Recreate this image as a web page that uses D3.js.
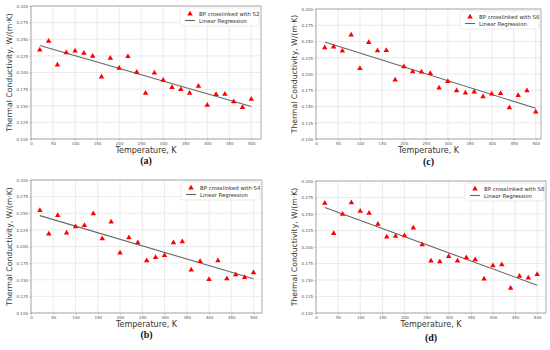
<!DOCTYPE html>
<html>
<head>
<meta charset="utf-8">
<script src="https://cdn.jsdelivr.net/npm/d3@7"></script>
<style>
  body { margin: 0; background: #fff; }
  .tick text { font-family: "DejaVu Sans", sans-serif; fill: #555; }
</style>
</head>
<body>
<svg id="chart" width="550" height="350"></svg>
<script>
var temps = [20, 40, 60, 80, 100, 120, 140, 160, 180, 200, 220, 240, 260, 280, 300, 320, 340, 360, 380, 400, 420, 440, 460, 480, 500];
var xTicks = [0, 50, 100, 150, 200, 250, 300, 350, 400, 450, 500];
var yTicks = [0.100, 0.125, 0.150, 0.175, 0.200, 0.225, 0.250, 0.275, 0.300];

var s2 = [0.234, 0.247, 0.2115, 0.230, 0.2325, 0.229, 0.2245, 0.1935, 0.2215, 0.2065, 0.224, 0.2005, 0.169, 0.1995, 0.1885, 0.1775, 0.1745, 0.169, 0.1795, 0.151, 0.167, 0.1675, 0.156, 0.1475, 0.160];
var s4 = [0.2544, 0.2188, 0.2469, 0.2203, 0.2298, 0.2318, 0.2494, 0.2118, 0.2368, 0.1902, 0.2133, 0.2058, 0.1787, 0.1837, 0.1867, 0.2058, 0.2073, 0.1647, 0.1777, 0.1506, 0.1787, 0.1516, 0.1576, 0.1536, 0.1607];
var s6 = [0.2405, 0.2415, 0.2354, 0.260, 0.2087, 0.2487, 0.2359, 0.2364, 0.1908, 0.2113, 0.2036, 0.2031, 0.2010, 0.1785, 0.1887, 0.1744, 0.1708, 0.1723, 0.1651, 0.1692, 0.1703, 0.1482, 0.1672, 0.1744, 0.1415];
var s8 = [0.2663, 0.2206, 0.2497, 0.2673, 0.2543, 0.2513, 0.2347, 0.2151, 0.2166, 0.2171, 0.2291, 0.2035, 0.1789, 0.1779, 0.1859, 0.1789, 0.1839, 0.1809, 0.1518, 0.1719, 0.1734, 0.1377, 0.1558, 0.1533, 0.1583];

// regression line endpoints at T = 20 and T = 500
var fitS2 = [0.2405, 0.149];
var fitS4 = [0.2464, 0.1516];
var fitS6 = [0.2492, 0.1472];
var fitS8 = [0.2598, 0.1422];

var labels = ["BP crosslinked with S2", "BP crosslinked with S4", "BP crosslinked with S6", "BP crosslinked with S8"];
var captions = ["(a)", "(b)", "(c)", "(d)"];

var panels = [
  { values: s2, fit: fitS2, label: labels[0], caption: captions[0], left: 31, right: 261, top: 6, bottom: 139, xMax: 522, capY: 164 },
  { values: s4, fit: fitS4, label: labels[1], caption: captions[1], left: 31, right: 262, top: 180, bottom: 313, xMax: 519, capY: 338 },
  { values: s6, fit: fitS6, label: labels[2], caption: captions[2], left: 316, right: 541, top: 9, bottom: 139, xMax: 512, capY: 165 },
  { values: s8, fit: fitS8, label: labels[3], caption: captions[3], left: 316, right: 546, top: 181, bottom: 313, xMax: 520, capY: 341 }
];

var svg = d3.select("#chart");
var tri = d3.symbol().type(d3.symbolTriangle).size(13);

panels.forEach(function (p) {
  var x = d3.scaleLinear().domain([0, p.xMax]).range([p.left, p.right]);
  var y = d3.scaleLinear().domain([0.1, 0.3]).range([p.bottom, p.top]);
  var g = svg.append("g");

  // grid
  g.append("g").selectAll("line").data(xTicks).join("line")
    .attr("x1", d => x(d)).attr("x2", d => x(d))
    .attr("y1", p.top).attr("y2", p.bottom)
    .attr("stroke", "#e2e2e2").attr("stroke-width", 0.7);
  g.append("g").selectAll("line").data(yTicks).join("line")
    .attr("x1", p.left).attr("x2", p.right)
    .attr("y1", d => y(d)).attr("y2", d => y(d))
    .attr("stroke", "#e2e2e2").attr("stroke-width", 0.7);

  var xAxis = g.append("g").attr("transform", "translate(0," + p.bottom + ")")
    .call(d3.axisBottom(x).tickValues(xTicks).tickSize(1.5).tickPadding(1.5));
  var yAxis = g.append("g").attr("transform", "translate(" + p.left + ",0)")
    .call(d3.axisLeft(y).tickValues(yTicks).tickFormat(d3.format(".3f")).tickSize(1.5).tickPadding(1.5));
  [xAxis, yAxis].forEach(function (a) {
    a.select(".domain").remove();
    a.selectAll(".tick line").attr("stroke", "#777").attr("stroke-width", 0.5);
    a.selectAll(".tick text").attr("font-size", 4);
  });

  // frame
  g.append("rect").attr("x", p.left).attr("y", p.top)
    .attr("width", p.right - p.left).attr("height", p.bottom - p.top)
    .attr("fill", "none").attr("stroke", "#999").attr("stroke-width", 0.8);

  // regression
  g.append("line")
    .attr("x1", x(temps[0])).attr("y1", y(p.fit[0]))
    .attr("x2", x(temps[temps.length - 1])).attr("y2", y(p.fit[1]))
    .attr("stroke", "#666").attr("stroke-width", 1.1);

  // points
  g.append("g").selectAll("path").data(p.values).join("path")
    .attr("d", tri)
    .attr("transform", (d, i) => "translate(" + x(temps[i]) + "," + y(d) + ")")
    .attr("fill", "red");

  // axis titles
  var cx = (p.left + p.right) / 2;
  g.append("text").attr("x", cx).attr("y", p.bottom + 14)
    .attr("text-anchor", "middle").attr("font-family", "DejaVu Sans, sans-serif")
    .attr("font-size", 8).attr("fill", "#333").text("Temperature, K");
  g.append("text")
    .attr("transform", "translate(" + (p.left - 19) + "," + ((p.top + p.bottom) / 2) + ") rotate(-90)")
    .attr("text-anchor", "middle").attr("font-family", "DejaVu Sans, sans-serif")
    .attr("font-size", 7.7).attr("fill", "#333").text("Thermal Conductivity, W/(m\u00b7K)");

  // caption
  g.append("text").attr("x", cx).attr("y", p.capY)
    .attr("text-anchor", "middle").attr("font-family", "Liberation Serif, serif")
    .attr("font-weight", "bold").attr("font-size", 10).attr("fill", "#111").text(p.caption);

  // legend
  var lw = 79, lh = 18;
  var lx = p.right - lw - 2, ly = p.top + 2;
  var lg = g.append("g").attr("transform", "translate(" + lx + "," + ly + ")");
  lg.append("rect").attr("width", lw).attr("height", lh).attr("rx", 1.5)
    .attr("fill", "#fff").attr("fill-opacity", 0.85).attr("stroke", "#ddd").attr("stroke-width", 0.6);
  lg.append("path").attr("d", tri).attr("transform", "translate(10,6)").attr("fill", "red");
  lg.append("line").attr("x1", 5).attr("x2", 15).attr("y1", 12.5).attr("y2", 12.5)
    .attr("stroke", "#666").attr("stroke-width", 1.1);
  lg.append("text").attr("x", 19).attr("y", 8).attr("font-family", "DejaVu Sans, sans-serif")
    .attr("font-size", 5.4).attr("fill", "#333").text(p.label);
  lg.append("text").attr("x", 19).attr("y", 14.5).attr("font-family", "DejaVu Sans, sans-serif")
    .attr("font-size", 5.4).attr("fill", "#333").text("Linear Regression");
});
</script>
</body>
</html>
